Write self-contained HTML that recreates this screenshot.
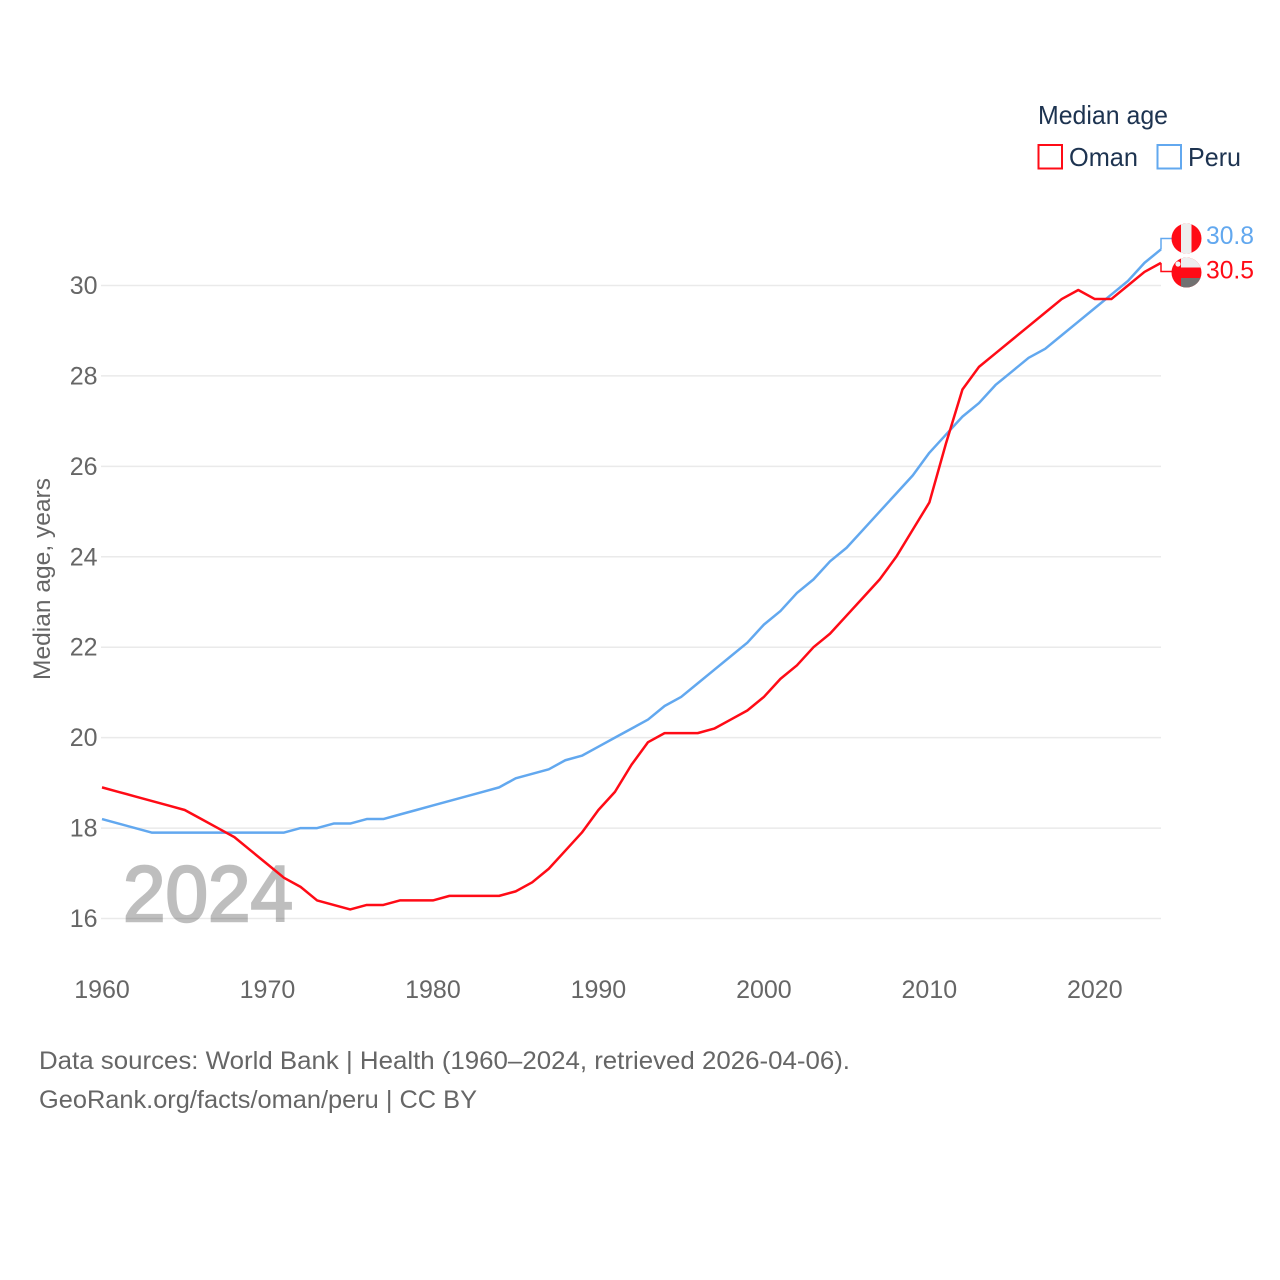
<!DOCTYPE html>
<html lang="en">
<head>
<meta charset="utf-8">
<title>Median age: Oman and Peru</title>
<style>
html,body{margin:0;padding:0;background:#fff;width:1280px;height:1280px;overflow:hidden}
svg{display:block;font-family:"Liberation Sans",sans-serif}
</style>
</head>
<body>
<svg id="chart" width="1280" height="1280" viewBox="0 0 1280 1280" xmlns="http://www.w3.org/2000/svg">
  <defs>
    <clipPath id="clip-peru"><circle cx="1186.5" cy="238.5" r="15"/></clipPath>
    <clipPath id="clip-oman"><circle cx="1186.5" cy="272.5" r="15"/></clipPath>
  </defs>
  <rect width="1280" height="1280" fill="#fff"/>

  <g id="grid"></g>
  <g id="y-ticks"></g>
  <g id="x-ticks"></g>

  <text transform="translate(50,579) rotate(-90)" text-anchor="middle" font-size="24" fill="#666" textLength="202" lengthAdjust="spacingAndGlyphs">Median age, years</text>

  <text x="123" y="921" font-size="79" font-weight="400" fill="#000" stroke="#000" stroke-width="2.4" opacity="0.25" textLength="170" lengthAdjust="spacingAndGlyphs">2024</text>

  <g id="series"></g>

  <g>
    <text x="1038" y="124" font-size="26" fill="#1d3350" textLength="130" lengthAdjust="spacingAndGlyphs">Median age</text>
    <rect x="1038.5" y="145" width="23.5" height="23.5" fill="none" stroke="#ff0b16" stroke-width="2"/>
    <text x="1069" y="166" font-size="26" fill="#1d3350" textLength="69" lengthAdjust="spacingAndGlyphs">Oman</text>
    <rect x="1157.5" y="145" width="23.5" height="23.5" fill="none" stroke="#62a8ef" stroke-width="2"/>
    <text x="1188" y="166" font-size="26" fill="#1d3350" textLength="53" lengthAdjust="spacingAndGlyphs">Peru</text>
  </g>

  <g clip-path="url(#clip-peru)">
    <rect x="1171" y="223" width="31" height="31" fill="#ff0b16"/>
    <rect x="1181" y="223" width="10.5" height="31" fill="#eeeeee"/>
  </g>
  <g clip-path="url(#clip-oman)">
    <rect x="1171" y="257" width="31" height="31" fill="#ff0b16"/>
    <rect x="1181" y="257" width="21" height="10.5" fill="#eeeeee"/>
    <rect x="1181" y="278" width="21" height="10.5" fill="#717171"/>
    <circle cx="1178" cy="264" r="2.6" fill="#f4f4f4"/>
  </g>

  <text x="1206" y="244" font-size="25" fill="#62a8ef" textLength="48" lengthAdjust="spacingAndGlyphs">30.8</text>
  <text x="1206" y="278.5" font-size="25" fill="#ff0b16" textLength="48" lengthAdjust="spacingAndGlyphs">30.5</text>

  <text x="39" y="1069" font-size="25" fill="#666" textLength="811" lengthAdjust="spacingAndGlyphs">Data sources: World Bank | Health (1960–2024, retrieved 2026-04-06).</text>
  <text x="39" y="1108" font-size="25" fill="#666" textLength="438" lengthAdjust="spacingAndGlyphs">GeoRank.org/facts/oman/peru | CC BY</text>
</svg>

<script>
var years = [1960,1961,1962,1963,1964,1965,1966,1967,1968,1969,1970,1971,1972,1973,1974,1975,1976,1977,1978,1979,1980,1981,1982,1983,1984,1985,1986,1987,1988,1989,1990,1991,1992,1993,1994,1995,1996,1997,1998,1999,2000,2001,2002,2003,2004,2005,2006,2007,2008,2009,2010,2011,2012,2013,2014,2015,2016,2017,2018,2019,2020,2021,2022,2023,2024];
var omanValues = [18.9,18.8,18.7,18.6,18.5,18.4,18.2,18.0,17.8,17.5,17.2,16.9,16.7,16.4,16.3,16.2,16.3,16.3,16.4,16.4,16.4,16.5,16.5,16.5,16.5,16.6,16.8,17.1,17.5,17.9,18.4,18.8,19.4,19.9,20.1,20.1,20.1,20.2,20.4,20.6,20.9,21.3,21.6,22.0,22.3,22.7,23.1,23.5,24.0,24.6,25.2,26.5,27.7,28.2,28.5,28.8,29.1,29.4,29.7,29.9,29.7,29.7,30.0,30.3,30.5];
var peruValues = [18.2,18.1,18.0,17.9,17.9,17.9,17.9,17.9,17.9,17.9,17.9,17.9,18.0,18.0,18.1,18.1,18.2,18.2,18.3,18.4,18.5,18.6,18.7,18.8,18.9,19.1,19.2,19.3,19.5,19.6,19.8,20.0,20.2,20.4,20.7,20.9,21.2,21.5,21.8,22.1,22.5,22.8,23.2,23.5,23.9,24.2,24.6,25.0,25.4,25.8,26.3,26.7,27.1,27.4,27.8,28.1,28.4,28.6,28.9,29.2,29.5,29.8,30.1,30.5,30.8];
var yTickValues = [16,18,20,22,24,26,28,30];
var xTickValues = [1960,1970,1980,1990,2000,2010,2020];

var SVG_NS = 'http://www.w3.org/2000/svg';
function xScale(year) { return 102 + (year - 1960) * (1161 - 102) / 64; }
function yScale(value) { return 918.5 - (value - 16) * (918.5 - 285.5) / 14; }
function make(tag, parent) {
  var el = document.createElementNS(SVG_NS, tag);
  parent.appendChild(el);
  return el;
}

var gridGroup = document.getElementById('grid');
var yGroup = document.getElementById('y-ticks');
yTickValues.forEach(function (v) {
  var line = make('line', gridGroup);
  
  
  line.setAttribute('x1', 101);
  line.setAttribute('x2', 1161);
  line.setAttribute('y1', yScale(v));
  line.setAttribute('y2', yScale(v));
  line.setAttribute('stroke', '#eaeaea');
  line.setAttribute('stroke-width', 1.5);
  var label = make('text', yGroup);
  
  
  label.setAttribute('x', 97.5);
  label.setAttribute('y', yScale(v) + 8.5);
  label.setAttribute('text-anchor', 'end');
  label.setAttribute('font-size', 25);
  label.setAttribute('fill', '#666');
  label.textContent = v;
});

var xGroup = document.getElementById('x-ticks');
xTickValues.forEach(function (v) {
  var label = make('text', xGroup);
  
  
  label.setAttribute('x', xScale(v));
  label.setAttribute('y', 998);
  label.setAttribute('text-anchor', 'middle');
  label.setAttribute('font-size', 25);
  label.setAttribute('fill', '#666');
  label.textContent = v;
});

function linePoints(values) {
  return values.map(function (v, i) {
    return xScale(years[i]).toFixed(2) + ',' + yScale(v).toFixed(2);
  }).join(' ');
}

var seriesGroup = document.getElementById('series');

var peruLine = make('polyline', seriesGroup);


peruLine.setAttribute('points', linePoints(peruValues));
peruLine.setAttribute('fill', 'none');
peruLine.setAttribute('stroke', '#62a8ef');
peruLine.setAttribute('stroke-width', 2.5);
peruLine.setAttribute('stroke-linejoin', 'round');

var omanLine = make('polyline', seriesGroup);


omanLine.setAttribute('points', linePoints(omanValues));
omanLine.setAttribute('fill', 'none');
omanLine.setAttribute('stroke', '#ff0b16');
omanLine.setAttribute('stroke-width', 2.5);
omanLine.setAttribute('stroke-linejoin', 'round');

var lastYear = years[years.length - 1];
var peruLast = peruValues[peruValues.length - 1];
var omanLast = omanValues[omanValues.length - 1];

var peruConnector = make('polyline', seriesGroup);


peruConnector.setAttribute('points', xScale(lastYear) + ',' + yScale(peruLast) + ' ' + xScale(lastYear) + ',238.5 1172,238.5');
peruConnector.setAttribute('fill', 'none');
peruConnector.setAttribute('stroke', '#62a8ef');
peruConnector.setAttribute('stroke-width', 1.5);

var omanConnector = make('polyline', seriesGroup);


omanConnector.setAttribute('points', xScale(lastYear) + ',' + yScale(omanLast) + ' ' + xScale(lastYear) + ',271.5 1172,271.5');
omanConnector.setAttribute('fill', 'none');
omanConnector.setAttribute('stroke', '#ff0b16');
omanConnector.setAttribute('stroke-width', 1.5);
</script>
</body>
</html>
